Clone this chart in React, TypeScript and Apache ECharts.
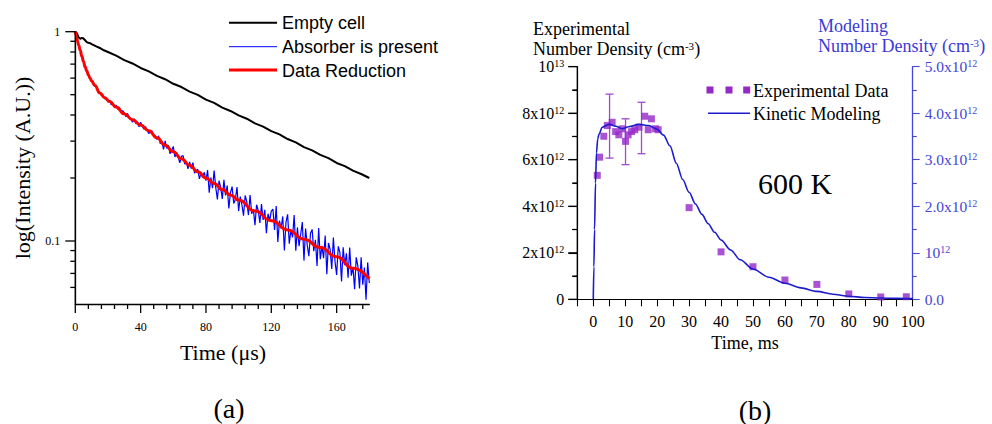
import React, { useEffect, useRef } from 'react';
import * as echarts from 'echarts';

const SERIF = 'Liberation Serif';
const SANS = 'Liberation Sans';

// ---------- panel (a) ----------
const emptyCellTimes = [0, 0.9, 2, 3, 4, 5, 6, 7, 8, 9, 10, 12.5, 15, 17.5, 20, 25, 30, 35, 40, 45, 50, 55, 60, 65, 70, 75, 80, 85, 90, 95, 100, 105, 110, 115, 120, 125, 130, 135, 140, 145, 150, 155, 160, 165, 170, 175, 180];
const emptyCellValues = [1.0, 0.985, 0.94, 0.925, 0.935, 0.928, 0.91, 0.892, 0.886, 0.882, 0.873, 0.853, 0.836, 0.815, 0.8, 0.768, 0.732, 0.705, 0.671, 0.646, 0.615, 0.593, 0.564, 0.544, 0.517, 0.499, 0.474, 0.457, 0.434, 0.418, 0.398, 0.384, 0.365, 0.352, 0.335, 0.323, 0.307, 0.296, 0.281, 0.271, 0.258, 0.249, 0.236, 0.228, 0.217, 0.209, 0.2];

// absorber trace, sampled every 1 µs from t = 0
const absorberStart = 0;
const absorberStep = 1;
const absorberValues = [
  1.0, 0.93, 0.862, 0.818, 0.762, 0.724, 0.676, 0.655, 0.617, 0.604,
  0.577, 0.571, 0.548, 0.543, 0.522, 0.514, 0.496, 0.497, 0.478, 0.48,
  0.462, 0.47, 0.448, 0.455, 0.434, 0.445, 0.426, 0.433, 0.412, 0.42,
  0.409, 0.392, 0.407, 0.386, 0.385, 0.369, 0.384, 0.364, 0.371, 0.351,
  0.369, 0.354, 0.342, 0.352, 0.337, 0.326, 0.334, 0.336, 0.315, 0.319,
  0.305, 0.318, 0.292, 0.3, 0.274, 0.301, 0.277, 0.287, 0.261, 0.271,
  0.283, 0.252, 0.264, 0.252, 0.236, 0.254, 0.256, 0.233, 0.239, 0.221,
  0.239, 0.222, 0.237, 0.211, 0.217, 0.22, 0.198, 0.212, 0.204, 0.213,
  0.194, 0.218, 0.17, 0.201, 0.179, 0.217, 0.18, 0.158, 0.194, 0.181,
  0.159, 0.196, 0.165, 0.184, 0.143, 0.17, 0.182, 0.151, 0.158, 0.181,
  0.139, 0.163, 0.149, 0.132, 0.165, 0.154, 0.133, 0.166, 0.135, 0.142,
  0.119, 0.149, 0.14, 0.122, 0.15, 0.126, 0.141, 0.109, 0.135, 0.125,
  0.139, 0.142, 0.113, 0.147, 0.099, 0.125, 0.115, 0.131, 0.09, 0.123,
  0.134, 0.097, 0.113, 0.104, 0.133, 0.0898, 0.1161, 0.0944, 0.1077, 0.1231,
  0.0806, 0.1147, 0.0955, 0.0847, 0.1089, 0.1136, 0.0893, 0.1012, 0.076, 0.1152,
  0.0819, 0.0947, 0.0828, 0.1062, 0.0694, 0.0978, 0.0914, 0.0736, 0.104, 0.0799,
  0.0689, 0.0943, 0.0882, 0.0641, 0.0932, 0.0766, 0.0873, 0.0667, 0.0931, 0.0683,
  0.0751, 0.0588, 0.0835, 0.0759, 0.0593, 0.0837, 0.0618, 0.0747, 0.0524, 0.079,
  0.063,
];

const reductionTimes = [0, 0.5, 1, 1.5, 2, 3, 4, 5, 6, 7, 8, 9, 10, 12, 15, 18, 21, 25, 30, 35, 40, 45, 50, 55, 60, 65, 70, 75, 80, 85, 90, 95, 100, 110, 120, 130, 140, 150, 160, 170, 180];
const reductionValues = [1.0, 0.96, 0.925, 0.895, 0.865, 0.815, 0.765, 0.72, 0.68, 0.65, 0.622, 0.6, 0.582, 0.553, 0.51, 0.484, 0.464, 0.437, 0.405, 0.38, 0.358, 0.336, 0.311, 0.287, 0.267, 0.247, 0.23, 0.214, 0.2, 0.188, 0.176, 0.166, 0.157, 0.139, 0.125, 0.113, 0.102, 0.093, 0.084, 0.074, 0.066];

const aXLabels = [0, 40, 80, 120, 160];
const aXMinorTicks = [8, 16, 24, 32, 48, 56, 64, 72, 88, 96, 104, 112, 128, 136, 144, 152, 168, 176];
const aYLabels = [1, 0.1];
const aYMinorTicks = [0.9, 0.8, 0.7, 0.6, 0.5, 0.4, 0.3, 0.2, 0.09, 0.08, 0.07, 0.06];
const aXMin = 0;
const aXMax = 180;
const aYMin = 0.05;
const aYMax = 1;

// ---------- panel (b) (values in units of 10^12 cm^-3) ----------
const expTimes = [1.25, 1.97, 3.3, 4.4, 5.9, 7.0, 8.0, 9.1, 10.1, 10.9, 12.0, 13.0, 14.3, 16.1, 17.2, 18.2, 19.5, 20.3, 30, 40, 50, 60, 70, 80, 90, 98];
const expValues = [5.33, 6.11, 7.01, 7.47, 7.61, 7.21, 7.07, 7.33, 6.79, 7.07, 7.21, 7.29, 7.4, 7.87, 7.29, 7.76, 7.33, 7.29, 3.94, 2.04, 1.4, 0.83, 0.64, 0.23, 0.1, 0.11];
const errTimes = [5.1, 10.1, 15.1];
const errLow = [6.07, 5.79, 6.26];
const errHigh = [8.82, 7.76, 8.47];

// kinetic modeling (right axis units, 10^12 cm^-3)
const modelTimes = [0, 0.2, 0.4, 0.7, 1.0, 1.4, 1.8, 2.8, 4.9, 7.0, 9.1, 11.1, 14.3, 17.4, 20, 22, 24, 26, 28, 30, 32, 34, 36, 38, 40, 43, 46, 50, 55, 60, 65, 70, 75, 80, 85, 90, 95, 100];
const modelValues = [0, 0.7, 1.5, 2.5, 3.15, 3.45, 3.55, 3.7, 3.76, 3.72, 3.665, 3.71, 3.76, 3.735, 3.655, 3.53, 3.3, 2.925, 2.575, 2.3, 2.05, 1.825, 1.625, 1.44, 1.275, 1.06, 0.85, 0.65, 0.475, 0.345, 0.245, 0.17, 0.11, 0.065, 0.04, 0.0275, 0.02, 0.015];

const bXMin = -5;
const bXMax = 100;
const bYMax = 10;
const bLeftMajorTicks = [0, 2, 4, 6, 8, 10];
const bLeftMinorTicks = [1, 3, 5, 7, 9];
const bLeftTickMant = ['0', '2x10', '4x10', '6x10', '8x10', '10'];
const bLeftTickExp = ['', '12', '12', '12', '12', '13'];
const bRightTickMant = ['0.0', '10', '2.0x10', '3.0x10', '4.0x10', '5.0x10'];
const bRightTickExp = ['', '12', '12', '12', '12', '12'];

const PURPLE = '#9428c8';
const PURPLE_ERR = '#a24ad0';
const MODEL_BLUE = '#1c1ccc';
const AXIS_BLUE = '#4646d8';

export default function App() {
  const ref = useRef<HTMLDivElement>(null);

  useEffect(() => {
    if (!ref.current) return;
    const chart = echarts.init(ref.current, undefined, { renderer: 'svg' });

    const absorberData = absorberValues.map((v, i) => [absorberStart + i * absorberStep, v]);
    const lg = (v: number) => Math.log10(v);
    // panel (a) axis frame: kind 1 x-major, 2 x-minor, 3 y-major, 4 y-minor, 5 y-axis line
    const tickDataA: number[][] = [
      ...aXLabels.map((v) => [v, lg(aYMin), 1]),
      ...aXMinorTicks.map((v) => [v, lg(aYMin), 2]),
      ...aYLabels.map((v) => [aXMin, lg(v), 3]),
      ...aYMinorTicks.map((v) => [aXMin, lg(v), 4]),
      [aXMin, lg(aYMin), 5],
    ];
    // panel (b) left axis frame: kind 3 major, 4 minor, 5 axis line
    const tickDataB: number[][] = [
      ...bLeftMajorTicks.map((v) => [bXMin, v, 3]),
      ...bLeftMinorTicks.map((v) => [bXMin, v, 4]),
      [bXMin, 0, 5],
    ];

    const frameItem = (yTop: number, majorX: number, minorX: number, majorY: number, minorY: number, lw: number) =>
      (params: any, api: any) => {
        const k = api.value(2);
        const p = api.coord([api.value(0), api.value(1)]);
        let shape;
        if (k === 5) {
          const q = api.coord([api.value(0), yTop]);
          shape = { x1: p[0], y1: p[1], x2: q[0], y2: q[1] };
        } else if (k <= 2) {
          const len = k === 1 ? majorX : minorX;
          shape = { x1: p[0], y1: p[1], x2: p[0], y2: p[1] + len };
        } else {
          const len = k === 3 ? majorY : minorY;
          shape = { x1: p[0] - len, y1: p[1], x2: p[0], y2: p[1] };
        }
        return { type: 'line', shape, style: { stroke: '#000', lineWidth: lw }, z2: 100 };
      };

    const sup = (mant: string, exp: string) => (exp ? `{m|${mant}}{s|${exp}}` : `{m|${mant}}`);

    const option: any = {
      animation: false,
      grid: [
        { left: 75.3, top: 31.7, width: 294, height: 272.3, containLabel: false },
        { left: 577.3, top: 66.7, width: 335.4, height: 232.6, containLabel: false },
      ],
      xAxis: [
        {
          type: 'value', gridIndex: 0, min: aXMin, max: aXMax, interval: 40, position: 'bottom',
          axisLine: { show: true, onZero: false, lineStyle: { color: '#000', width: 1.3 } },
          axisTick: { show: false },
          splitLine: { show: false },
          axisLabel: {
            margin: 17, fontSize: 12, fontFamily: SERIF, color: '#000',
            formatter: (v: number) => (aXLabels.indexOf(v) >= 0 ? String(v) : ''),
          },
        },
        {
          type: 'value', gridIndex: 1, min: bXMin, max: bXMax, interval: 5, position: 'bottom',
          axisLine: { show: true, onZero: false, lineStyle: { color: '#000', width: 1.2 } },
          axisTick: { show: true, length: 7, lineStyle: { color: '#000', width: 1.1 } },
          splitLine: { show: false },
          axisLabel: {
            margin: 14, fontSize: 16, fontFamily: SERIF, color: '#000',
            formatter: (v: number) => (v >= 0 && v % 10 === 0 ? String(v) : ''),
          },
        },
      ],
      yAxis: [
        {
          type: 'log', gridIndex: 0, min: aYMin, max: aYMax, logBase: 10, position: 'left',
          axisLine: { show: true, onZero: false, lineStyle: { color: '#000', width: 1.3 } },
          axisTick: { show: false },
          splitLine: { show: false },
          axisLabel: {
            margin: 15, fontSize: 12, fontFamily: SERIF, color: '#000',
            formatter: (v: number) => {
              for (const t of aYLabels) if (Math.abs(v - t) < 1e-6) return String(t);
              return '';
            },
          },
        },
        {
          type: 'value', gridIndex: 1, position: 'left', min: 0, max: bYMax, interval: 2,
          axisLine: { show: true, onZero: false, lineStyle: { color: '#000', width: 1.2 } },
          axisTick: { show: true, length: 9, lineStyle: { color: '#000', width: 1.1 } },
          minorTick: { show: true, splitNumber: 2, length: 5, lineStyle: { color: '#000', width: 1.1 } },
          splitLine: { show: false },
          axisLabel: {
            margin: 13,
            formatter: (v: number) => {
              const i = Math.round(v / 2);
              return sup(bLeftTickMant[i], bLeftTickExp[i]);
            },
            rich: {
              m: { fontSize: 16, fontFamily: SERIF, color: '#000' },
              s: { fontSize: 10, fontFamily: SERIF, color: '#000', verticalAlign: 'top' },
            },
          },
        },
        {
          type: 'value', gridIndex: 1, position: 'right', min: 0, max: 5, interval: 1,
          axisLine: { show: true, onZero: false, lineStyle: { color: AXIS_BLUE, width: 1.3 } },
          axisTick: { show: true, length: 7, lineStyle: { color: AXIS_BLUE, width: 1.1 } },
          minorTick: { show: true, splitNumber: 2, length: 4, lineStyle: { color: AXIS_BLUE, width: 1.1 } },
          splitLine: { show: false },
          axisLabel: {
            margin: 12,
            formatter: (v: number) => {
              const i = Math.round(v);
              return sup(bRightTickMant[i], bRightTickExp[i]);
            },
            rich: {
              m: { fontSize: 15.5, fontFamily: SERIF, color: AXIS_BLUE },
              s: { fontSize: 10, fontFamily: SERIF, color: AXIS_BLUE, verticalAlign: 'top' },
            },
          },
        },
        {
          // hidden linear twin of the log axis (log10 space), used only to place tick marks
          type: 'value', gridIndex: 0, position: 'right', min: lg(aYMin), max: lg(aYMax), show: false,
          axisLine: { show: false, onZero: false },
          splitLine: { show: false },
        },
      ],
      series: [
        {
          name: 'Empty cell', type: 'line', xAxisIndex: 0, yAxisIndex: 0, symbol: 'none',
          lineStyle: { color: '#000', width: 2 },
          data: emptyCellTimes.map((t, i) => [t, emptyCellValues[i]]),
        },
        {
          name: 'Absorber is present', type: 'line', xAxisIndex: 0, yAxisIndex: 0, symbol: 'none',
          lineStyle: { color: '#0000ff', width: 1.2 },
          data: absorberData,
        },
        {
          name: 'Data Reduction', type: 'line', xAxisIndex: 0, yAxisIndex: 0, symbol: 'none',
          smooth: true, smoothMonotone: 'x',
          lineStyle: { color: '#ff0000', width: 3 },
          data: reductionTimes.map((t, i) => [t, reductionValues[i]]),
        },
        {
          name: 'frameA', type: 'custom', xAxisIndex: 0, yAxisIndex: 3, clip: false, silent: true, z: 10,
          data: tickDataA,
          renderItem: frameItem(lg(aYMax), 9, 5, 10, 5, 1.3),
        },
        {
          name: 'frameB', type: 'custom', xAxisIndex: 1, yAxisIndex: 1, clip: false, silent: true, z: 10,
          data: tickDataB,
          renderItem: frameItem(bYMax, 7, 7, 9, 5, 1.2),
        },
        {
          name: 'Kinetic Modeling', type: 'line', xAxisIndex: 1, yAxisIndex: 2, symbol: 'none',
          smooth: 0.3, smoothMonotone: 'x',
          lineStyle: { color: MODEL_BLUE, width: 1.6 },
          data: modelTimes.map((t, i) => [t, modelValues[i]]),
        },
        {
          name: 'errors', type: 'custom', xAxisIndex: 1, yAxisIndex: 1, clip: false, silent: true,
          data: errTimes.map((t, i) => [t, errLow[i], errHigh[i]]),
          renderItem: (params: any, api: any) => {
            const x = api.value(0);
            const lo = api.coord([x, api.value(1)]);
            const hi = api.coord([x, api.value(2)]);
            const w = 4;
            const st = { stroke: PURPLE_ERR, lineWidth: 1.3 };
            return {
              type: 'group',
              children: [
                { type: 'line', shape: { x1: lo[0], y1: lo[1], x2: hi[0], y2: hi[1] }, style: st },
                { type: 'line', shape: { x1: lo[0] - w, y1: lo[1], x2: lo[0] + w, y2: lo[1] }, style: st },
                { type: 'line', shape: { x1: hi[0] - w, y1: hi[1], x2: hi[0] + w, y2: hi[1] }, style: st },
              ],
            };
          },
        },
        {
          name: 'Experimental Data', type: 'scatter', xAxisIndex: 1, yAxisIndex: 1,
          symbol: 'rect', symbolSize: 7,
          itemStyle: { color: PURPLE },
          data: expTimes.map((t, i) => [t, expValues[i]]),
        },
      ],
      graphic: [
        // legend (a)
        { type: 'line', shape: { x1: 229, y1: 22.7, x2: 277, y2: 22.7 }, style: { stroke: '#000', lineWidth: 2 } },
        { type: 'text', x: 282, y: 23, style: { text: 'Empty cell', fontSize: 18, fontFamily: SANS, fill: '#000', align: 'left', verticalAlign: 'middle' } },
        { type: 'line', shape: { x1: 229, y1: 46.7, x2: 277, y2: 46.7 }, style: { stroke: '#0000ff', lineWidth: 1 } },
        { type: 'text', x: 282, y: 47, style: { text: 'Absorber is present', fontSize: 18, fontFamily: SANS, fill: '#000', align: 'left', verticalAlign: 'middle' } },
        { type: 'line', shape: { x1: 229, y1: 70, x2: 277, y2: 70 }, style: { stroke: '#ff0000', lineWidth: 3 } },
        { type: 'text', x: 282, y: 70.5, style: { text: 'Data Reduction', fontSize: 18, fontFamily: SANS, fill: '#000', align: 'left', verticalAlign: 'middle' } },
        // axis titles (a)
        { type: 'text', x: 223, y: 352, style: { text: 'Time (μs)', fontSize: 22, fontFamily: SERIF, fill: '#000', align: 'center', verticalAlign: 'middle' } },
        { type: 'text', x: 22.5, y: 168, rotation: Math.PI / 2, style: { text: 'log(Intensity (A.U.))', fontSize: 22, fontFamily: SERIF, fill: '#000', align: 'center', verticalAlign: 'middle' } },
        { type: 'text', x: 229, y: 408, style: { text: '(a)', fontSize: 28, fontFamily: SERIF, fill: '#000', align: 'center', verticalAlign: 'middle' } },
        // axis titles (b)
        { type: 'text', x: 533, y: 29, style: { text: 'Experimental', fontSize: 18, fontFamily: SERIF, fill: '#000', align: 'left', verticalAlign: 'middle' } },
        {
          type: 'text', x: 533, y: 49,
          style: {
            text: '{a|Number Density (cm}{s|-3}{a|)}', align: 'left', verticalAlign: 'middle',
            rich: {
              a: { fontSize: 18, fontFamily: SERIF, fill: '#000', color: '#000' },
              s: { fontSize: 11, fontFamily: SERIF, fill: '#000', color: '#000', verticalAlign: 'top' },
            },
          },
        },
        { type: 'text', x: 818, y: 26, style: { text: 'Modeling', fontSize: 18, fontFamily: SERIF, fill: '#3a3ad6', align: 'left', verticalAlign: 'middle' } },
        {
          type: 'text', x: 818, y: 46,
          style: {
            text: '{a|Number Density (cm}{s|-3}{a|)}', align: 'left', verticalAlign: 'middle',
            rich: {
              a: { fontSize: 18, fontFamily: SERIF, fill: '#3a3ad6', color: '#3a3ad6' },
              s: { fontSize: 11, fontFamily: SERIF, fill: '#3a3ad6', color: '#3a3ad6', verticalAlign: 'top' },
            },
          },
        },
        // legend (b)
        { type: 'rect', shape: { x: 706.5, y: 86.5, width: 7, height: 7 }, style: { fill: PURPLE } },
        { type: 'rect', shape: { x: 725.5, y: 86.5, width: 7, height: 7 }, style: { fill: PURPLE } },
        { type: 'rect', shape: { x: 743.2, y: 86.5, width: 7, height: 7 }, style: { fill: PURPLE } },
        { type: 'text', x: 753, y: 91, style: { text: 'Experimental Data', fontSize: 18, fontFamily: SERIF, fill: '#000', align: 'left', verticalAlign: 'middle' } },
        { type: 'line', shape: { x1: 708, y1: 113.3, x2: 750, y2: 113.3 }, style: { stroke: MODEL_BLUE, lineWidth: 1.6 } },
        { type: 'text', x: 753, y: 114, style: { text: 'Kinetic Modeling', fontSize: 18, fontFamily: SERIF, fill: '#000', align: 'left', verticalAlign: 'middle' } },
        { type: 'text', x: 795, y: 183, style: { text: '600 K', fontSize: 30, fontFamily: SERIF, fill: '#000', align: 'center', verticalAlign: 'middle' } },
        { type: 'text', x: 745, y: 343, style: { text: 'Time, ms', fontSize: 18, fontFamily: SERIF, fill: '#000', align: 'center', verticalAlign: 'middle' } },
        { type: 'text', x: 755, y: 410, style: { text: '(b)', fontSize: 28, fontFamily: SERIF, fill: '#000', align: 'center', verticalAlign: 'middle' } },
      ],
    };

    chart.setOption(option);
    return () => chart.dispose();
  }, []);

  return (
    <div
      ref={ref}
      style={{ position: 'absolute', left: 0, top: 0, width: 992, height: 424, background: '#fff' }}
    />
  );
}
